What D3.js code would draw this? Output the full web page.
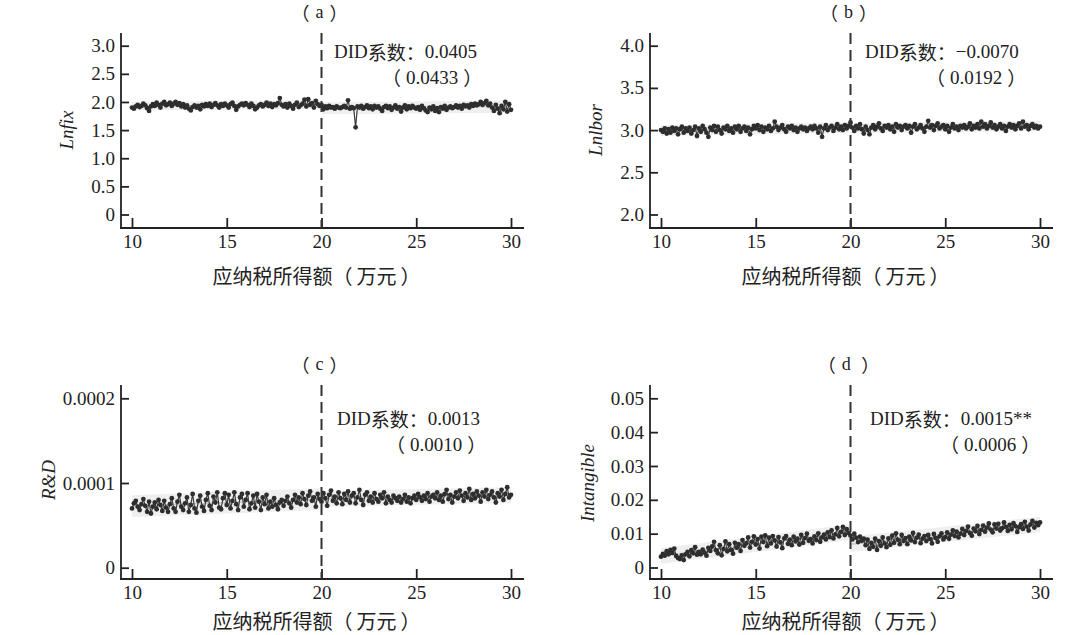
<!DOCTYPE html>
<html><head><meta charset="utf-8">
<script src="https://cdn.jsdelivr.net/npm/d3@7"></script>
<style>
body{margin:0;background:#fff}
text{font-family:"Liberation Serif","Times New Roman","Noto Sans CJK SC",serif;fill:#222}
</style>
</head><body>
<svg id="chart" width="1080" height="635"></svg>
<script>
// ---- data ----
const xStart = 10, xStep = 0.1, xCount = 201;           // 应纳税所得额 bins (万元)
const xTicks = [10, 15, 20, 25, 30];
const cutoff = 20;

const lnfixValues = [
1.90,1.88,1.92,1.95,1.91,1.93,1.97,1.94,1.89,1.84,
1.92,1.96,1.93,1.99,1.95,1.90,1.97,2.00,1.94,1.96,
1.99,1.93,1.97,2.00,1.95,1.98,1.92,1.96,1.90,1.94,
1.88,1.85,1.91,1.94,1.90,1.93,1.87,1.95,1.92,1.96,
1.93,1.97,1.91,1.95,1.98,1.94,1.90,1.96,1.93,1.97,
1.94,1.90,1.96,1.99,1.93,1.86,1.92,1.95,1.97,1.94,
1.98,1.95,1.91,1.97,1.93,1.87,1.90,1.94,1.96,1.92,
1.95,1.99,1.93,1.97,1.91,1.96,1.94,1.98,2.07,1.95,
1.92,1.96,1.90,1.97,1.93,1.88,1.95,1.99,1.91,1.94,
1.97,2.04,1.92,2.05,1.95,1.98,1.90,2.02,1.96,1.93,
1.95,1.87,1.92,1.89,1.93,1.90,1.91,1.88,1.92,1.90,
1.89,1.91,1.93,1.90,2.03,1.88,1.91,1.89,1.55,1.92,
1.90,1.93,1.88,1.91,1.94,1.89,1.92,1.87,1.93,1.90,
1.92,1.88,1.84,1.91,1.93,1.89,1.92,1.86,1.90,1.94,
1.88,1.91,1.83,1.90,1.94,1.87,1.92,1.89,1.93,1.90,
1.88,1.91,1.86,1.93,1.89,1.85,1.82,1.90,1.87,1.92,
1.84,1.89,1.82,1.91,1.88,1.93,1.86,1.90,1.92,1.89,
1.91,1.94,1.90,1.93,1.88,1.95,1.92,1.94,1.90,1.96,
1.93,1.97,1.94,1.96,2.00,1.95,1.98,2.02,1.94,1.97,
1.90,1.84,1.95,1.88,1.80,1.93,1.87,2.00,1.83,1.96,
1.86];

const lnlborValues = [
3.00,2.98,3.02,2.96,3.01,2.97,3.03,2.99,3.02,2.95,
3.01,3.04,2.97,3.02,2.99,3.03,2.96,3.00,3.04,2.93,
3.02,2.98,3.05,3.01,2.97,2.92,3.03,3.00,3.05,2.98,
3.04,3.00,2.96,3.03,3.01,3.05,2.99,3.02,2.97,3.04,
3.01,3.05,2.98,3.02,3.04,2.99,3.03,2.95,3.01,3.05,
3.02,3.06,3.00,3.04,2.98,3.03,3.01,3.05,2.99,3.02,
3.10,3.04,3.00,3.03,3.06,3.01,2.98,3.04,3.02,3.05,
3.00,3.03,2.98,3.02,3.04,3.01,3.03,2.99,3.02,3.04,
3.01,3.05,3.02,2.97,3.04,2.92,3.02,3.06,3.00,3.03,
3.05,2.99,3.03,3.07,3.01,3.04,3.00,3.06,3.02,3.05,
3.09,3.03,2.99,3.05,3.02,3.07,3.01,2.96,3.04,3.00,
2.95,3.03,3.06,3.01,3.04,3.08,3.02,2.99,3.05,3.03,
3.06,3.01,3.04,2.98,3.07,3.03,3.05,3.00,3.04,3.06,
3.02,3.05,2.97,3.04,3.07,3.01,3.03,3.06,3.02,2.98,
3.04,3.11,3.03,3.06,3.00,3.05,3.08,3.02,3.04,3.06,
3.01,3.05,2.98,3.03,3.07,3.02,3.04,3.00,3.05,3.03,
3.06,3.02,3.04,3.08,3.01,3.05,3.03,3.07,3.02,3.10,
3.04,3.07,3.02,3.05,3.09,3.03,3.06,3.01,3.04,3.07,
3.02,3.05,2.99,3.04,3.07,3.03,3.06,3.01,3.05,3.08,
3.02,3.10,3.04,3.06,3.01,3.05,3.07,3.03,3.05,3.02,
3.04];

const rdValues = [
7.0e-5,7.6e-5,7.9e-5,7.2e-5,6.8e-5,7.5e-5,8.1e-5,7.3e-5,6.6e-5,7.8e-5,
6.4e-5,7.2e-5,7.7e-5,6.9e-5,8.0e-5,7.4e-5,6.7e-5,7.9e-5,7.1e-5,6.6e-5,
7.5e-5,8.2e-5,7.0e-5,6.6e-5,7.8e-5,8.6e-5,7.2e-5,6.8e-5,7.6e-5,8.3e-5,
6.6e-5,7.4e-5,8.7e-5,7.0e-5,6.5e-5,7.9e-5,8.5e-5,7.2e-5,6.7e-5,8.0e-5,
8.8e-5,7.3e-5,6.8e-5,8.4e-5,7.7e-5,8.9e-5,7.1e-5,6.9e-5,8.2e-5,8.8e-5,
7.4e-5,8.6e-5,7.0e-5,7.9e-5,8.9e-5,7.5e-5,6.8e-5,8.3e-5,8.7e-5,7.2e-5,
8.0e-5,8.8e-5,6.9e-5,7.6e-5,8.5e-5,7.1e-5,8.7e-5,7.8e-5,6.8e-5,8.3e-5,
7.5e-5,8.6e-5,7.0e-5,7.8e-5,7.2e-5,8.2e-5,7.4e-5,6.9e-5,7.7e-5,8.0e-5,
7.3e-5,7.9e-5,8.4e-5,7.6e-5,7.1e-5,8.0e-5,8.6e-5,7.7e-5,8.3e-5,7.5e-5,
8.8e-5,8.1e-5,7.4e-5,8.5e-5,9.0e-5,7.9e-5,8.3e-5,7.2e-5,8.7e-5,8.1e-5,
7.8e-5,8.8e-5,8.2e-5,7.3e-5,8.6e-5,9.1e-5,7.9e-5,8.4e-5,7.6e-5,8.9e-5,
8.2e-5,7.5e-5,8.7e-5,8.0e-5,9.0e-5,7.7e-5,8.5e-5,8.8e-5,7.6e-5,8.3e-5,
9.2e-5,8.0e-5,7.4e-5,8.6e-5,8.9e-5,7.9e-5,8.4e-5,7.7e-5,8.8e-5,8.1e-5,
7.8e-5,8.6e-5,8.2e-5,8.9e-5,7.6e-5,8.4e-5,8.0e-5,7.7e-5,8.5e-5,8.2e-5,
7.9e-5,8.4e-5,7.7e-5,8.1e-5,8.6e-5,7.8e-5,8.3e-5,7.6e-5,8.2e-5,8.5e-5,
8.0e-5,8.7e-5,8.3e-5,7.9e-5,8.5e-5,8.1e-5,8.8e-5,7.8e-5,8.4e-5,8.6e-5,
8.2e-5,8.9e-5,8.0e-5,8.5e-5,7.8e-5,8.7e-5,9.2e-5,8.1e-5,8.6e-5,7.7e-5,
8.4e-5,8.9e-5,8.2e-5,9.1e-5,8.5e-5,7.9e-5,8.8e-5,8.3e-5,9.3e-5,8.0e-5,
8.7e-5,8.2e-5,9.0e-5,8.5e-5,7.8e-5,8.9e-5,8.4e-5,9.2e-5,8.1e-5,8.6e-5,
9.0e-5,8.3e-5,7.7e-5,8.8e-5,8.4e-5,9.2e-5,8.0e-5,8.7e-5,9.5e-5,8.3e-5,
8.6e-5];

const intangibleValues = [
0.0032,0.0040,0.0035,0.0048,0.0039,0.0052,0.0043,0.0056,0.0034,0.0028,
0.0025,0.0036,0.0022,0.0039,0.0046,0.0033,0.0051,0.0042,0.0060,0.0038,
0.0046,0.0039,0.0053,0.0044,0.0035,0.0058,0.0049,0.0062,0.0076,0.0051,
0.0042,0.0066,0.0036,0.0055,0.0077,0.0048,0.0069,0.0052,0.0041,0.0073,
0.0058,0.0069,0.0049,0.0081,0.0064,0.0072,0.0089,0.0059,0.0076,0.0092,
0.0068,0.0084,0.0056,0.0091,0.0075,0.0095,0.0063,0.0088,0.0071,0.0093,
0.0080,0.0062,0.0090,0.0074,0.0057,0.0086,0.0093,0.0070,0.0082,0.0066,
0.0091,0.0077,0.0085,0.0068,0.0096,0.0073,0.0087,0.0100,0.0079,0.0084,
0.0071,0.0092,0.0081,0.0101,0.0076,0.0089,0.0097,0.0083,0.0104,0.0090,
0.0110,0.0086,0.0098,0.0117,0.0092,0.0105,0.0120,0.0096,0.0113,0.0102,
0.0094,0.0083,0.0100,0.0088,0.0075,0.0091,0.0079,0.0085,0.0066,0.0082,
0.0055,0.0073,0.0061,0.0085,0.0052,0.0078,0.0064,0.0089,0.0071,0.0060,
0.0086,0.0067,0.0094,0.0073,0.0101,0.0082,0.0069,0.0096,0.0078,0.0087,
0.0069,0.0091,0.0080,0.0102,0.0075,0.0088,0.0097,0.0072,0.0085,0.0093,
0.0078,0.0096,0.0084,0.0071,0.0099,0.0087,0.0076,0.0092,0.0101,0.0083,
0.0090,0.0104,0.0085,0.0097,0.0110,0.0093,0.0106,0.0089,0.0100,0.0114,
0.0096,0.0108,0.0121,0.0102,0.0094,0.0115,0.0107,0.0123,0.0099,0.0111,
0.0124,0.0106,0.0118,0.0130,0.0112,0.0104,0.0127,0.0115,0.0129,0.0109,
0.0116,0.0133,0.0120,0.0108,0.0126,0.0113,0.0131,0.0122,0.0105,0.0119,
0.0128,0.0114,0.0135,0.0121,0.0109,0.0127,0.0138,0.0118,0.0132,0.0125,
0.0133];

const lnfixTickValues = [0, 0.5, 1.0, 1.5, 2.0, 2.5, 3.0];
const lnfixTickLabels = ["0","0.5","1.0","1.5","2.0","2.5","3.0"];
const lnlborTickValues = [2.0, 2.5, 3.0, 3.5, 4.0];
const lnlborTickLabels = ["2.0","2.5","3.0","3.5","4.0"];
const rdTickValues = [0, 0.0001, 0.0002];
const rdTickLabels = ["0","0.0001","0.0002"];
const intangibleTickValues = [0, 0.01, 0.02, 0.03, 0.04, 0.05];
const intangibleTickLabels = ["0","0.01","0.02","0.03","0.04","0.05"];

const panelTitles = ["（a）", "（b）", "（c）", "（d ）"];
const yTitles = ["Lnfix", "Lnlbor", "R&D", "Intangible"];
const didCoefs = ["DID系数：0.0405", "DID系数：−0.0070", "DID系数：0.0013", "DID系数：0.0015**"];
const didSEs = ["（0.0433）", "（0.0192）", "（0.0010）", "（0.0006）"];
const xTitle = "应纳税所得额（万元）";

// ---- layout ----
const svg = d3.select("#chart");
const xs = d3.range(xCount).map(i => +(xStart + i * xStep).toFixed(1));
const SERIF = '"Liberation Serif","Times New Roman",serif';
const CJK = '"Noto Sans CJK SC","Noto Sans CJK JP",sans-serif';
const CJK_RE = /[\u3000-\u303F\uFF00-\uFFEF\u4E00-\u9FFF]/;

// write text with CJK/fullwidth characters in CJK font, the rest in serif;
// full-width brackets get a little inner spacing as in the original typesetting
function richText(sel, str, gap) {
  const tokens = str.match(/[（）]|[\u3000-\u303F\u4E00-\u9FFF\uFF01-\uFF07\uFF0A-\uFFEF]+|[^\u3000-\u303F\uFF00-\uFFEF\u4E00-\u9FFF]+/g);
  let prev = null;
  tokens.forEach(s => {
    const t = sel.append("tspan").style("font-family", CJK_RE.test(s) ? CJK : SERIF).text(s);
    if (prev === "（" || s === "）") t.attr("dx", gap);
    prev = s;
  });
  return sel;
}

const panels = [
  {vals: lnfixValues, tv: lnfixTickValues, tl: lnfixTickLabels, dom: [0, 3], x0: 121, xr: [132, 511], xEnd: 524,
   top: 33, axisY: 228, yr: [214.5, 45.7], ytx: 66, yty: 130, didX: 334, didY: 51, seX: 382, seY: 77},
  {vals: lnlborValues, tv: lnlborTickValues, tl: lnlborTickLabels, dom: [2, 4], x0: 650, xr: [661, 1040], xEnd: 1053,
   top: 33, axisY: 228, yr: [214.5, 45.7], ytx: 595, yty: 130, didX: 865, didY: 51, seX: 926, seY: 77},
  {vals: rdValues, tv: rdTickValues, tl: rdTickLabels, dom: [0, 0.0002], x0: 121, xr: [132, 511], xEnd: 524,
   top: 385, axisY: 579, yr: [567.7, 398.3], ytx: 48, yty: 480, didX: 337, didY: 418, seX: 386, seY: 444},
  {vals: intangibleValues, tv: intangibleTickValues, tl: intangibleTickLabels, dom: [0, 0.05], x0: 650, xr: [661, 1040], xEnd: 1053,
   top: 385, axisY: 579, yr: [567.5, 398.3], ytx: 587, yty: 483, didX: 870, didY: 418, seX: 940, seY: 444}
];

function fit(pts) {
  const mx = d3.mean(pts, d => d[0]), my = d3.mean(pts, d => d[1]);
  const sxy = d3.sum(pts, d => (d[0]-mx)*(d[1]-my)), sxx = d3.sum(pts, d => (d[0]-mx)**2);
  const b = sxy / sxx, a = my - b*mx;
  const sd = Math.sqrt(d3.mean(pts, d => (d[1] - (a + b*d[0]))**2));
  return {a, b, sd};
}

panels.forEach((p, k) => {
  const g = svg.append("g");
  const x = d3.scaleLinear().domain([10, 30]).range(p.xr);
  const y = d3.scaleLinear().domain(p.dom).range(p.yr);
  const data = xs.map((xv, i) => [xv, p.vals[i]]);

  // band + fit per side
  [data.filter(d => d[0] < cutoff), data.filter(d => d[0] >= cutoff)].forEach(side => {
    const f = fit(side);
    const bandPts = d3.extent(side, d => d[0]);
    g.append("path")
      .attr("d", d3.area().x(d => x(d)).y0(d => y(f.a + f.b*d - 2.0*f.sd)).y1(d => y(f.a + f.b*d + 2.0*f.sd))(bandPts))
      .attr("fill", "#efefef");
    g.append("path")
      .attr("d", d3.line().x(d => x(d)).y(d => y(f.a + f.b*d))(bandPts))
      .attr("stroke", "#c8c8c8").attr("stroke-width", 1.4).attr("fill", "none");
  });

  g.append("path").datum(data)
    .attr("d", d3.line().x(d => x(d[0])).y(d => y(d[1])))
    .attr("fill", "none").attr("stroke", "#3a3a3a").attr("stroke-width", 1.2);
  g.selectAll("circle").data(data).join("circle")
    .attr("cx", d => x(d[0])).attr("cy", d => y(d[1])).attr("r", 2.4).attr("fill", "#2e2e2e");

  // axes
  const ya = d3.axisLeft(y).tickValues(p.tv).tickFormat((d, i) => p.tl[i]).tickSizeInner(-8).tickSizeOuter(0).tickPadding(6);
  const yg = g.append("g").attr("transform", `translate(${p.x0},0)`).call(ya);
  const xa = d3.axisBottom(x).tickValues(xTicks).tickFormat(d3.format("d")).tickSizeInner(-10).tickSizeOuter(0).tickPadding(7);
  const xg = g.append("g").attr("transform", `translate(0,${p.axisY})`).call(xa);
  [yg, xg].forEach(ag => {
    ag.select(".domain").remove();
    ag.selectAll(".tick line").attr("stroke", "#222").attr("stroke-width", 1.8);
    ag.selectAll(".tick text").attr("font-size", 19).attr("fill", "#222").style("font-family", SERIF);
  });
  g.append("line").attr("x1", p.x0).attr("x2", p.x0).attr("y1", p.top).attr("y2", p.axisY + 0.9)
    .attr("stroke", "#222").attr("stroke-width", 1.8);
  g.append("line").attr("x1", p.x0 - 0.9).attr("x2", p.xEnd).attr("y1", p.axisY).attr("y2", p.axisY)
    .attr("stroke", "#222").attr("stroke-width", 1.8);

  // cutoff dashed line
  g.append("line").attr("x1", x(cutoff)).attr("x2", x(cutoff)).attr("y1", p.top).attr("y2", p.axisY)
    .attr("stroke", "#333").attr("stroke-width", 2).attr("stroke-dasharray", "11,6");

  // titles and text
  richText(g.append("text").attr("x", (p.x0 + p.xEnd) / 2 - 3).attr("y", p.top - 21).attr("text-anchor", "middle")
    .attr("dominant-baseline", "central").attr("font-size", 18), panelTitles[k], 6);
  richText(g.append("text").attr("x", (p.xr[0] + p.xr[1]) / 2 - 5).attr("y", p.axisY + (k < 2 ? 47 : 41)).attr("text-anchor", "middle")
    .attr("dominant-baseline", "central").attr("font-size", 20), xTitle, 4);
  g.append("text").attr("transform", `translate(${p.ytx},${p.yty}) rotate(-90)`).attr("text-anchor", "middle")
    .attr("dominant-baseline", "central").attr("font-size", 19).attr("font-style", "italic")
    .style("font-family", SERIF).text(yTitles[k]);
  richText(g.append("text").attr("x", p.didX).attr("y", p.didY).attr("dominant-baseline", "central")
    .attr("font-size", 19), didCoefs[k], 0);
  richText(g.append("text").attr("x", p.seX).attr("y", p.seY).attr("dominant-baseline", "central")
    .attr("font-size", 19), didSEs[k], 5);
});
</script>
</body></html>
